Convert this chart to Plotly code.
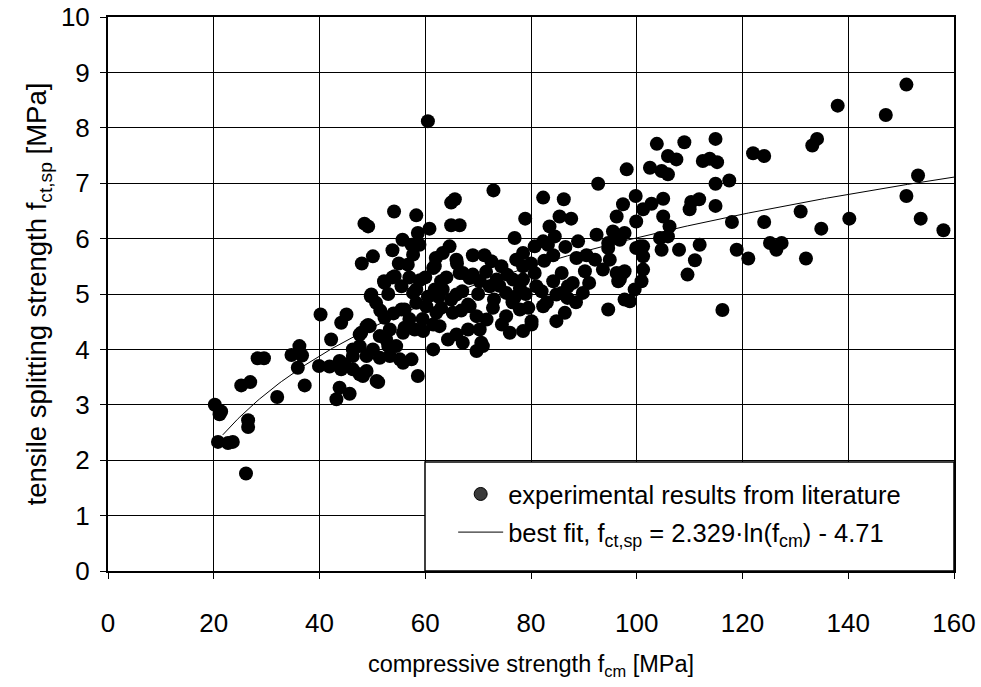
import numpy as np
import plotly.graph_objects as go

# Compressive strength f_cm [MPa] of the test specimens
fcm = [
    20.2, 21.4, 21.1, 20.8, 22.7, 23.6, 26.5, 26.5, 26.1, 25.2, 26.9, 28.3, 29.5, 32.0,
    34.7, 36.2, 36.7, 35.9, 37.2, 40.2, 39.9, 42.2, 41.9, 44.1, 45.1, 43.8, 44.1, 43.8,
    43.2, 45.7, 46.3, 48.2, 46.3, 47.9, 49.5, 49.8, 50.7, 52.3, 51.1, 58.6,
    54.1, 48.5, 49.2, 50.1, 48.0, 53.8, 52.2, 53.8, 49.7, 52.3, 49.2,
    60.5, 72.9, 65.6, 64.9, 58.3, 64.9, 66.5, 60.8, 58.6, 55.7, 57.4, 56.7, 58.9, 64.6,
    63.3, 61.8, 65.9, 69.0, 71.2, 72.5, 54.2, 55.5, 58.3, 63.0, 66.5, 69.0, 70.3, 73.5,
    74.4, 76.9, 78.9, 82.3, 86.2, 85.4, 87.6, 83.5, 84.5, 82.3, 80.7, 78.5, 77.2, 78.5,
    88.9, 88.6, 92.7, 98.1, 97.4, 96.2, 92.4, 95.5, 92.1, 93.6, 90.2, 96.8, 87.9, 85.8,
    89.8, 97.7, 94.6, 86.4, 84.8, 82.3, 81.0, 84.2, 80.1, 78.5, 76.0, 75.3, 77.9, 71.6,
    70.3, 68.1, 70.9, 69.7, 67.1, 64.3, 65.9, 68.1, 65.2, 62.1, 62.7, 61.5, 57.4, 55.2,
    53.0, 55.8, 58.0, 60.2, 58.3, 56.1, 57.7, 63.3, 64.9, 72.2, 75.3, 76.6, 78.5, 80.7,
    85.8, 87.0, 94.6, 94.9, 96.8, 96.2,
    151.0, 138.0, 147.1, 134.1, 133.2, 122.0, 124.1, 153.2, 151.0, 153.7, 158.0, 140.2,
    134.9, 131.0, 124.1, 118.0, 114.9, 117.5, 114.9, 114.9, 109.0, 103.8, 105.9, 107.5,
    112.5, 113.8, 115.2, 102.5, 104.7, 105.9, 99.8, 102.8, 105.0, 101.2, 110.3, 111.8,
    110.0, 99.9, 105.0, 106.2, 97.7, 104.4, 105.9, 100.6, 104.7, 108.0, 111.9, 111.0,
    118.9, 121.1, 125.2, 126.4, 127.4, 132.0, 109.6, 101.2, 101.2, 97.7,
    116.2, 99.6, 96.5, 100.9, 97.4, 101.2, 98.7,
    83.2, 94.6, 99.9, 68.4, 77.9, 86.9, 84.8, 80.1, 69.7, 68.4, 70.6,
    57.7, 61.5, 61.8, 67.1, 65.9, 55.5, 61.5, 59.6, 56.1, 53.3, 51.4, 52.6, 54.5, 50.1,
    47.6, 46.3, 48.9, 44.7, 47.6, 48.9, 51.4, 53.3, 55.8, 50.8, 47.6, 48.9,
    62.5, 64.0, 67.0, 70.0, 71.5, 73.0, 74.0, 75.5, 77.0, 79.0, 60.0, 62.0, 66.0, 60.5,
    59.0, 57.0, 55.0, 53.0, 51.5, 54.0, 57.0, 59.5, 63.0, 66.8, 72.8, 74.5, 76.5, 79.5,
    82.0, 83.0, 80.0, 82.5, 84.2, 86.5, 90.5, 91.0, 88.5,
]

# Tensile splitting strength f_ct,sp [MPa] of the same specimens
fctsp = [
    3.00, 2.88, 2.83, 2.33, 2.31, 2.33, 2.72, 2.60, 1.76, 3.35, 3.41, 3.84, 3.84, 3.14,
    3.90, 4.06, 3.89, 3.67, 3.35, 4.63, 3.70, 4.18, 3.69, 4.48, 4.63, 3.79, 3.64, 3.31,
    3.10, 3.20, 3.64, 3.52, 4.00, 4.30, 4.42, 4.99, 4.84, 5.20, 3.41, 3.52,
    6.49, 6.27, 6.22, 5.68, 5.55, 5.79, 5.23, 5.30, 4.96, 4.57, 4.44,
    8.12, 6.87, 6.71, 6.65, 6.42, 6.24, 6.24, 6.18, 6.10, 5.98, 5.89, 5.53, 5.89, 5.86,
    5.74, 5.50, 5.62, 5.70, 5.70, 5.59, 5.32, 5.14, 5.08, 5.23, 5.38, 5.35, 5.23, 5.26,
    5.50, 6.01, 6.36, 6.74, 6.71, 6.40, 6.36, 6.22, 6.04, 5.95, 5.86, 5.74, 5.62, 5.50,
    5.95, 5.65, 6.99, 7.25, 6.62, 6.40, 6.07, 6.13, 5.62, 5.44, 5.41, 5.26, 5.20, 5.02,
    5.02, 4.90, 4.72, 4.66, 4.51, 4.78, 5.14, 5.23, 4.51, 4.33, 4.30, 4.60, 4.72, 4.54,
    4.36, 4.36, 4.06, 3.97, 4.12, 4.18, 4.27, 4.81, 4.66, 4.66, 4.42, 4.00, 3.82, 3.82,
    4.06, 4.30, 4.36, 4.78, 4.84, 4.72, 5.02, 5.08, 4.90, 5.14, 5.02, 5.26, 5.26, 5.38,
    5.38, 5.14, 5.83, 5.62, 5.98, 5.38,
    8.78, 8.40, 8.23, 7.80, 7.68, 7.54, 7.49, 7.14, 6.77, 6.36, 6.15, 6.36,
    6.18, 6.49, 6.30, 6.30, 6.59, 7.05, 6.99, 7.80, 7.74, 7.71, 7.49, 7.43,
    7.40, 7.44, 7.38, 7.28, 7.22, 7.16, 6.77, 6.63, 6.72, 6.53, 6.66, 6.71,
    6.53, 6.31, 6.40, 6.22, 6.10, 6.01, 6.04, 5.86, 5.80, 5.80, 5.89, 5.61,
    5.80, 5.64, 5.92, 5.80, 5.92, 5.64, 5.35, 5.68, 5.44, 5.41,
    4.71, 5.08, 5.23, 5.23, 5.38, 5.86, 4.87,
    5.89, 5.92, 5.83, 5.29, 5.11, 4.93, 4.99, 4.45, 4.60, 4.78, 4.12,
    5.71, 5.47, 5.08, 5.38, 4.99, 4.72, 4.45, 4.33, 4.39, 4.36, 4.24, 4.18, 4.06, 4.00,
    4.06, 3.88, 3.88, 3.73, 3.55, 3.61, 3.85, 3.88, 3.76, 3.43, 4.27, 4.42,
    4.95, 5.30, 5.05, 5.00, 5.40, 4.90, 5.15, 5.35, 4.95, 5.00, 5.30, 5.65, 5.55, 4.95,
    5.25, 5.30, 5.55, 5.00, 4.70, 4.65, 4.55, 4.55, 4.75, 4.70, 4.75, 4.45, 4.85, 4.75,
    5.05, 4.85, 5.55, 5.60, 5.70, 5.85, 5.70, 5.20, 4.85,
]

# Logarithmic best fit f_ct,sp = a*ln(f_cm) + b
fit_a = 2.329
fit_b = -4.71
fit_range = (21.7, 160.0)

x_ticks = [0, 20, 40, 60, 80, 100, 120, 140, 160]
y_ticks = [0, 1, 2, 3, 4, 5, 6, 7, 8, 9, 10]

FONT = "Arial, 'Liberation Sans', sans-serif"

fit_x = np.linspace(fit_range[0], fit_range[1], 300)
fit_y = fit_a * np.log(fit_x) + fit_b

fig = go.Figure()

fig.add_trace(go.Scatter(
    x=fit_x, y=fit_y, mode="lines",
    line=dict(color="black", width=1),
    name="best fit, f<sub>ct,sp</sub> = 2.329·ln(f<sub>cm</sub>) - 4.71",
    legendgroup="fit", legendrank=2,
))

fig.add_trace(go.Scatter(
    x=fcm, y=fctsp, mode="markers",
    marker=dict(color="black", size=14, line=dict(width=0)),
    showlegend=False, hoverinfo="x+y",
))

# legend entry for the experimental data
fig.add_trace(go.Scatter(
    x=[None], y=[None], mode="markers",
    marker=dict(color="#3a3a3a", size=13, line=dict(color="black", width=1)),
    name="experimental results from literature",
    legendgroup="exp", legendrank=1,
))

# framed legend box
fig.add_shape(
    type="rect", xref="paper", yref="paper",
    x0=0.3747, x1=1.0, y0=0.0, y1=0.1968,
    fillcolor="white", line=dict(color="black", width=1.5), layer="above",
)

axis_common = dict(
    showline=True, linecolor="black", linewidth=2, mirror=True,
    showgrid=True, gridcolor="black", gridwidth=1,
    zeroline=False, automargin=False,
    ticks="outside", ticklen=6, tickwidth=1, tickcolor="black",
    tickfont=dict(family=FONT, size=26, color="black"),
)

fig.update_xaxes(
    range=[0, 160], tickvals=x_ticks, ticklabelstandoff=22,
    title=dict(text="compressive strength f<sub>cm</sub> [MPa]",
               font=dict(family=FONT, size=23.5, color="black"), standoff=18),
    **axis_common,
)
fig.update_yaxes(
    range=[0, 10], tickvals=y_ticks, ticklabelstandoff=5,
    title=dict(text="tensile splitting strength f<sub>ct,sp</sub> [MPa]",
               font=dict(family=FONT, size=27.5, color="black"), standoff=6),
    **axis_common,
)

fig.update_layout(
    width=981, height=687,
    margin=dict(l=108, r=27, t=17, b=116),
    paper_bgcolor="white", plot_bgcolor="white",
    font=dict(family=FONT, size=24, color="black"),
    showlegend=True,
    legend=dict(
        x=0.408, y=0.104, xanchor="left", yanchor="middle",
        bgcolor="rgba(0,0,0,0)", borderwidth=0,
        font=dict(family=FONT, size=25.5, color="black"),
        traceorder="grouped", tracegroupgap=2, itemwidth=45,
    ),
)

fig.write_html("out.html")
